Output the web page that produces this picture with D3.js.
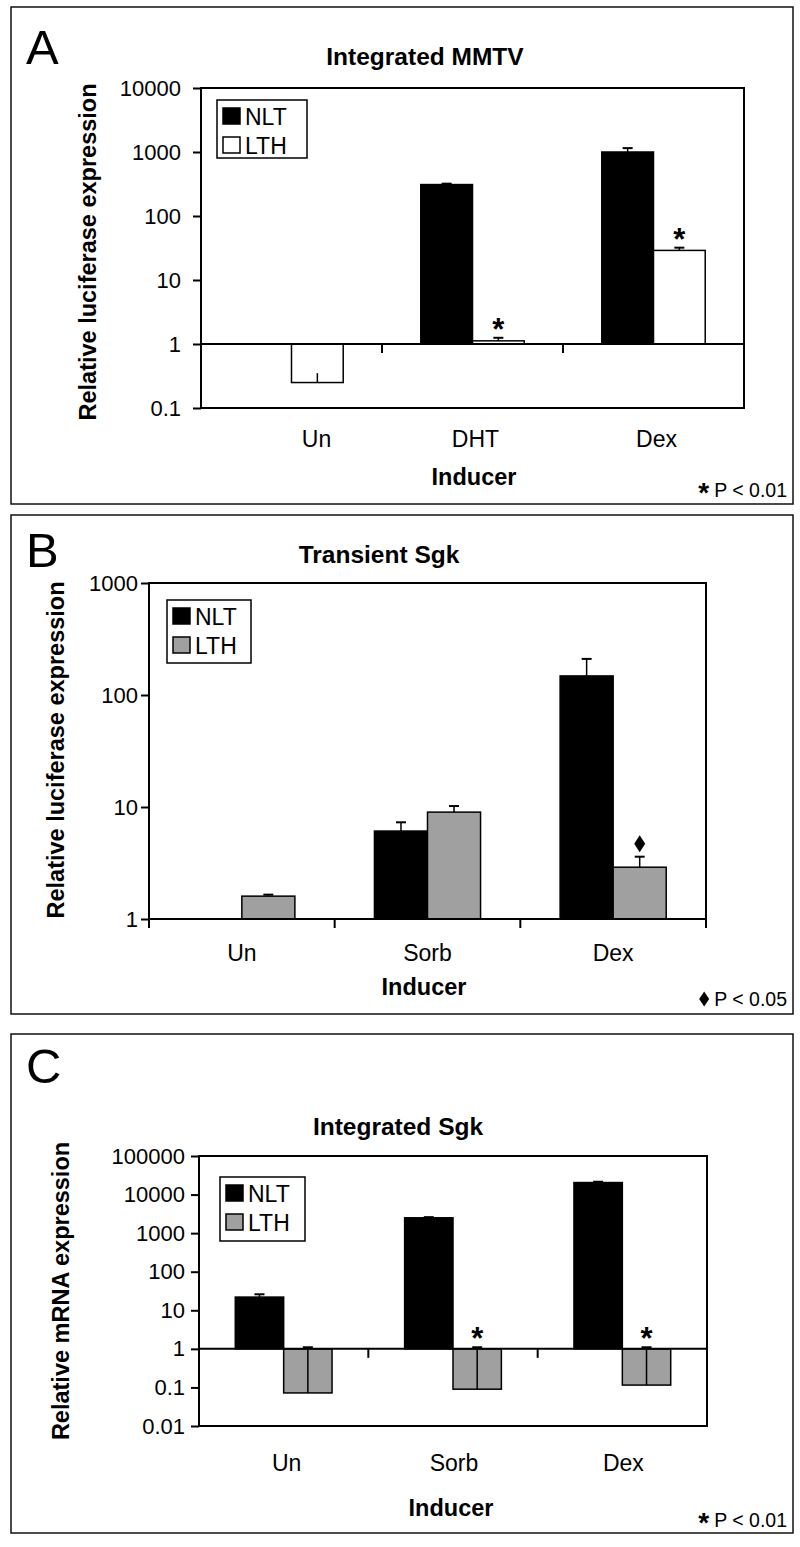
<!DOCTYPE html>
<html>
<head>
<meta charset="utf-8">
<script src="https://cdn.jsdelivr.net/npm/d3@7"></script>
<style>
  html, body { margin: 0; padding: 0; background: #fff; }
  svg { display: block; font-family: "Liberation Sans", Arial, Helvetica, sans-serif; }
</style>
</head>
<body>
<svg id="chart" width="800" height="1547"></svg>
<script>
// ---------------- DATA ----------------
const seriesNames = ["NLT", "LTH"];

// Panel A: Integrated MMTV
const catsA = ["Un", "DHT", "Dex"];
const nltA = [1, 310, 1000];
const nltErrA = [null, 320, 1150];
const lthA = [0.25, 1.12, 29];
const lthErrA = [0.35, 1.25, 32];
const ticksA = [0.1, 1, 10, 100, 1000, 10000];
const tickLabelsA = ["0.1", "1", "10", "100", "1000", "10000"];
const sigA = [null, "*", "*"];

// Panel B: Transient Sgk
const catsB = ["Un", "Sorb", "Dex"];
const nltB = [1, 6.1, 148];
const nltErrB = [null, 7.3, 210];
const lthB = [1.6, 9.0, 2.9];
const lthErrB = [1.65, 10.2, 3.6];
const ticksB = [1, 10, 100, 1000];
const tickLabelsB = ["1", "10", "100", "1000"];
const sigB = [null, null, "diamond"];

// Panel C: Integrated Sgk
const catsC = ["Un", "Sorb", "Dex"];
const nltC = [22, 2500, 20500];
const nltErrC = [26, 2600, 21500];
const lthC = [0.072, 0.09, 0.115];
const lthErrC = [1.1, 1.1, 1.1];
const ticksC = [0.01, 0.1, 1, 10, 100, 1000, 10000, 100000];
const tickLabelsC = ["0.01", "0.1", "1", "10", "100", "1000", "10000", "100000"];
const sigC = [null, "*", "*"];

// ---------------- LAYOUT ----------------
const panels = [
  { letter: "A", title: "Integrated MMTV", ylabel: "Relative luciferase expression",
    cats: catsA, nlt: nltA, nltErr: nltErrA, lth: lthA, lthErr: lthErrA,
    ticks: ticksA, tickLabels: tickLabelsA, sig: sigA, lthColor: "#ffffff",
    note: "star", noteText: "P < 0.01",
    frame: [11, 7, 793, 504], plot: [201, 88, 744, 408],
    letterPos: [26, 64], titlePos: [425, 65], ylabelPos: [88, 252],
    catY: 447, catDx: [25, 3, 3], inducerPos: [474, 485], noteY: 497,
    legend: [217, 100, 90, 58], tickPad: 20, axisAtOne: true, endTicks: false },
  { letter: "B", title: "Transient Sgk", ylabel: "Relative luciferase expression",
    cats: catsB, nlt: nltB, nltErr: nltErrB, lth: lthB, lthErr: lthErrB,
    ticks: ticksB, tickLabels: tickLabelsB, sig: sigB, lthColor: "#a0a0a0",
    note: "diamond", noteText: "P < 0.05",
    frame: [11, 515, 793, 1014], plot: [149, 583, 706, 919],
    letterPos: [26, 567], titlePos: [379, 563], ylabelPos: [56, 750],
    catY: 961, catDx: [0, 0, 0], inducerPos: [424, 995], noteY: 1006,
    legend: [167, 600, 84, 63], tickPad: 11, axisAtOne: false, endTicks: true },
  { letter: "C", title: "Integrated Sgk", ylabel: "Relative mRNA expression",
    cats: catsC, nlt: nltC, nltErr: nltErrC, lth: lthC, lthErr: lthErrC,
    ticks: ticksC, tickLabels: tickLabelsC, sig: sigC, lthColor: "#a0a0a0",
    note: "star", noteText: "P < 0.01",
    frame: [11, 1034, 793, 1533], plot: [199, 1156, 707, 1426],
    letterPos: [26, 1083], titlePos: [398, 1135], ylabelPos: [61, 1291],
    catY: 1471, catDx: [3, 1, 1], inducerPos: [451, 1516], noteY: 1527,
    legend: [220, 1177, 85, 64], tickPad: 14, axisAtOne: true, endTicks: false }
];

const svg = d3.select("#chart");

function diamondPath(cx, cy, w, h) {
  return `M${cx},${cy - h / 2}L${cx + w / 2},${cy}L${cx},${cy + h / 2}L${cx - w / 2},${cy}Z`;
}

panels.forEach(p => {
  const g = svg.append("g");
  const [fx0, fy0, fx1, fy1] = p.frame;
  const [px0, py0, px1, py1] = p.plot;

  // outer frame
  g.append("rect").attr("x", fx0).attr("y", fy0)
    .attr("width", fx1 - fx0).attr("height", fy1 - fy0)
    .attr("fill", "none").attr("stroke", "#111").attr("stroke-width", 1.5);

  // panel letter
  g.append("text").attr("x", p.letterPos[0]).attr("y", p.letterPos[1])
    .attr("font-size", 49).attr("fill", "#000").text(p.letter);

  // title
  g.append("text").attr("x", p.titlePos[0]).attr("y", p.titlePos[1])
    .attr("text-anchor", "middle").attr("font-size", 24.5).attr("font-weight", "bold")
    .text(p.title);

  // scales
  const y = d3.scaleLog()
    .domain([p.ticks[0], p.ticks[p.ticks.length - 1]])
    .range([py1, py0]);
  const x = d3.scaleBand().domain(p.cats).range([px0, px1]).padding(0);
  const xs = d3.scaleBand().domain(seriesNames).range([0, x.bandwidth()])
    .paddingInner(0).paddingOuter(0.75);

  // y axis (ticks + labels)
  const yAxis = d3.axisLeft(y).tickValues(p.ticks)
    .tickFormat((d, i) => p.tickLabels[i]).tickSize(8).tickPadding(p.tickPad - 8);
  const ya = g.append("g").attr("transform", `translate(${px0},0)`).call(yAxis);
  ya.select(".domain").remove();
  ya.selectAll(".tick line").attr("stroke", "#000").attr("stroke-width", 2);
  ya.selectAll(".tick text").attr("font-size", 22).attr("fill", "#000")
    .attr("font-family", "Liberation Sans, Arial, sans-serif");

  // y label
  g.append("text")
    .attr("transform", `translate(${p.ylabelPos[0]},${p.ylabelPos[1]}) rotate(-90)`)
    .attr("text-anchor", "middle").attr("dominant-baseline", "central")
    .attr("font-size", 23.5).attr("font-weight", "bold").text(p.ylabel);

  // bars
  const rows = [];
  p.cats.forEach((c, i) => {
    rows.push({ cat: c, s: "NLT", v: p.nlt[i], e: p.nltErr[i], fill: "#000", sig: null });
    rows.push({ cat: c, s: "LTH", v: p.lth[i], e: p.lthErr[i], fill: p.lthColor, sig: p.sig[i] });
  });
  const barG = g.append("g");
  rows.forEach(r => {
    const bx = x(r.cat) + xs(r.s);
    const bw = xs.bandwidth();
    const yTop = y(Math.max(r.v, 1));
    const yBot = y(Math.min(r.v, 1));
    if (yBot - yTop > 0.5) {
      barG.append("rect").attr("x", bx).attr("y", yTop)
        .attr("width", bw).attr("height", yBot - yTop)
        .attr("fill", r.fill).attr("stroke", "#000").attr("stroke-width", 1.5);
    }
    if (r.e != null) {
      const cx = bx + bw / 2;
      const ye = y(r.e);
      barG.append("line").attr("x1", cx).attr("x2", cx)
        .attr("y1", y(r.v)).attr("y2", ye)
        .attr("stroke", "#000").attr("stroke-width", 1.5);
      if (r.v >= 1 || r.e > 1) {
        barG.append("line").attr("x1", cx - 5).attr("x2", cx + 5)
          .attr("y1", ye).attr("y2", ye)
          .attr("stroke", "#000").attr("stroke-width", 2);
      }
      const top = Math.min(ye, y(Math.max(r.v, 1)));
      if (r.sig === "*") {
        barG.append("text").attr("x", cx).attr("y", top + 2)
          .attr("text-anchor", "middle").attr("font-size", 31).attr("font-weight", "bold")
          .text("*");
      } else if (r.sig === "diamond") {
        barG.append("path").attr("d", diamondPath(cx, top - 13, 11, 17)).attr("fill", "#000");
      }
    }
  });

  // plot frame
  g.append("rect").attr("x", px0).attr("y", py0)
    .attr("width", px1 - px0).attr("height", py1 - py0)
    .attr("fill", "none").attr("stroke", "#000").attr("stroke-width", 2);

  // category axis
  const yAx = p.axisAtOne ? y(1) : py1;
  g.append("line").attr("x1", px0).attr("x2", px1).attr("y1", yAx).attr("y2", yAx)
    .attr("stroke", "#000").attr("stroke-width", 2);
  const bounds = p.endTicks ? d3.range(p.cats.length + 1) : d3.range(1, p.cats.length);
  bounds.forEach(k => {
    const xx = px0 + k * x.step();
    g.append("line").attr("x1", xx).attr("x2", xx).attr("y1", yAx).attr("y2", yAx + 9)
      .attr("stroke", "#000").attr("stroke-width", 2);
  });
  p.cats.forEach((c, i) => {
    g.append("text").attr("x", x(c) + x.bandwidth() / 2 + p.catDx[i]).attr("y", p.catY)
      .attr("text-anchor", "middle").attr("font-size", 23).text(c);
  });

  // x label
  g.append("text").attr("x", p.inducerPos[0]).attr("y", p.inducerPos[1])
    .attr("text-anchor", "middle").attr("font-size", 23.5).attr("font-weight", "bold")
    .text("Inducer");

  // legend
  const [lx, ly, lw, lh] = p.legend;
  const lg = g.append("g");
  lg.append("rect").attr("x", lx).attr("y", ly).attr("width", lw).attr("height", lh)
    .attr("fill", "#fff").attr("stroke", "#000").attr("stroke-width", 1.5);
  seriesNames.forEach((s, i) => {
    const sy = ly + 8 + i * 29;
    lg.append("rect").attr("x", lx + 6).attr("y", sy).attr("width", 17).attr("height", 16)
      .attr("fill", i === 0 ? "#000" : p.lthColor).attr("stroke", "#000").attr("stroke-width", 1.5);
    lg.append("text").attr("x", lx + 28).attr("y", sy + 17)
      .attr("font-size", 23).text(s);
  });

  // significance note
  const nt = g.append("text").attr("x", fx1 - 6).attr("y", p.noteY)
    .attr("text-anchor", "end").attr("font-size", 19.5).text(p.noteText);
  const tw = nt.node().getComputedTextLength();
  const nx = fx1 - 6 - tw - 5;
  if (p.note === "star") {
    g.append("text").attr("x", nx).attr("y", p.noteY + 5).attr("text-anchor", "end")
      .attr("font-size", 28).attr("font-weight", "bold").text("*");
  } else {
    g.append("path").attr("d", diamondPath(nx - 5, p.noteY - 7, 10, 15)).attr("fill", "#000");
  }
});
</script>
</body>
</html>
